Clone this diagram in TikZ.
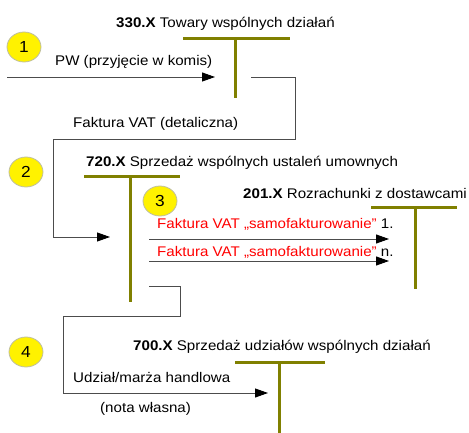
\documentclass[tikz,border=0pt]{standalone}
\usepackage{fontspec}
\setmainfont[FakeStretch=1.08]{Liberation Sans}
\usetikzlibrary{arrows.meta}
\definecolor{olivebar}{RGB}{128,128,0}
\definecolor{redtxt}{RGB}{255,0,0}
\definecolor{circline}{RGB}{190,190,160}
\tikzset{
  tbar/.style={draw=olivebar, line width=3pt},
  conn/.style={draw=black!70, line width=0.9pt},
  arr/.style={conn, -{Triangle[length=13pt,width=9pt,color=black]}},
  lbl/.style={anchor=base west, inner sep=0pt, font=\fontsize{14}{16}\selectfont},
  badge/.style={ellipse, draw=circline, fill=yellow, line width=0.8pt, minimum width=34pt, minimum height=30pt, inner sep=0pt, font=\fontsize{16}{18}\selectfont}
}
\usetikzlibrary{shapes.geometric}
\begin{document}
\begin{tikzpicture}[x=1pt,y=-1pt]
\useasboundingbox (0,0) rectangle (469,433);
% T-accounts
\draw[tbar] (183,39) -- (290,39);
\draw[tbar] (235,39) -- (235,98);
\draw[tbar] (84,177) -- (180,177);
\draw[tbar] (130,177) -- (130,302);
\draw[tbar] (371,208) -- (457,208);
\draw[tbar] (415,208) -- (415,289);
\draw[tbar] (235,362) -- (325,362);
\draw[tbar] (279,362) -- (279,433);
% titles
\node[lbl] (h330) at (116,28) {\textbf{330.X} Towary wspólnych działań};
\node[lbl] (h720) at (86,167) {\textbf{720.X} Sprzedaż wspólnych ustaleń umownych};
\node[lbl] (h201) at (243,199) {\textbf{201.X} Rozrachunki z dostawcami};
\node[lbl] (h700) at (133,350) {\textbf{700.X} Sprzedaż udziałów wspólnych działań};
% badges
\node[badge] (b1) at (24,47) {1};
\node[badge] (b2) at (26,172) {2};
\node[badge] (b3) at (160,201) {3};
\node[badge] (b4) at (26,352) {4};
% coordinates
\coordinate (s1) at (7,77);
\coordinate (e1) at (215,77);
\coordinate (s2) at (251,77);
\coordinate (c2a) at (295,139);
\coordinate (c2b) at (53,139);
\coordinate (e2) at (110,237);
\coordinate (s3a) at (149,239);
\coordinate (e3a) at (389,239);
\coordinate (s3b) at (149,261);
\coordinate (e3b) at (389,261);
\coordinate (s4) at (149,286);
\coordinate (c4a) at (180,316);
\coordinate (c4b) at (63,316);
\coordinate (e4) at (268,393);
% connectors
\draw[arr] (s1) -- (e1);
\draw[arr] (s2) -| (c2a) -- (c2b) |- (e2);
\draw[arr] (s3a) -- (e3a);
\draw[arr] (s3b) -- (e3b);
\draw[arr] (s4) -| (c4a) -- (c4b) |- (e4);
% labels
\node[lbl] (l1) at (55,66) {PW (przyjęcie w komis)};
\node[lbl] (l2) at (73,128) {Faktura VAT (detaliczna)};
\node[lbl] (l3a) at (157,229) {\textcolor{redtxt}{Faktura VAT „samofakturowanie”} 1.};
\node[lbl] (l3b) at (157,257) {\textcolor{redtxt}{Faktura VAT „samofakturowanie”} n.};
\node[lbl] (l4a) at (73,382) {Udział/marża handlowa};
\node[lbl] (l4b) at (100,412) {(nota własna)};
\end{tikzpicture}
\end{document}
